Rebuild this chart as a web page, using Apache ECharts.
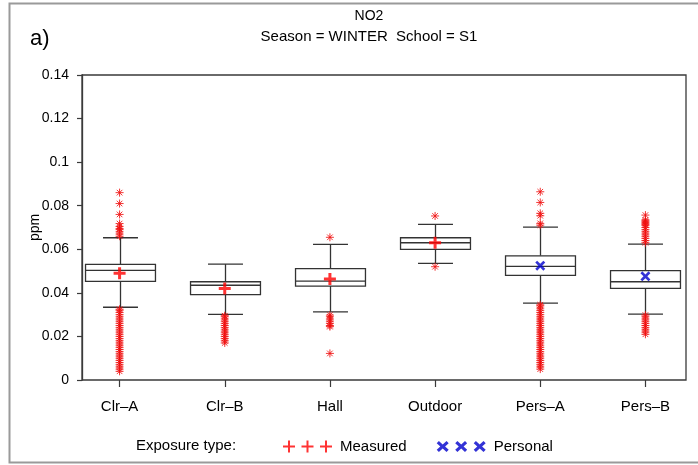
<!DOCTYPE html>
<html>
<head>
<meta charset="utf-8">
<script src="https://cdn.jsdelivr.net/npm/echarts@6/dist/echarts.min.js"></script>
<style>
html,body{margin:0;padding:0;background:#fff;}
#c{width:698px;height:465px;}
</style>
</head>
<body>
<div id="c"></div>
<script>
// ---- data ----
const categories = ['Clr\u2013A', 'Clr\u2013B', 'Hall', 'Outdoor', 'Pers\u2013A', 'Pers\u2013B'];
const whiskerLow  = [0.0334, 0.0301, 0.0313, 0.0535, 0.0353, 0.0302];
const q1          = [0.0453, 0.0392, 0.0431, 0.0600, 0.0480, 0.0421];
const median      = [0.0503, 0.0435, 0.0454, 0.0630, 0.0522, 0.0451];
const q3          = [0.0531, 0.0451, 0.0511, 0.0653, 0.0570, 0.0502];
const whiskerHigh = [0.0653, 0.0532, 0.0623, 0.0714, 0.0702, 0.0624];
const measuredMean = [0.0490, 0.0420, 0.0464, 0.0630, null, null];
const personalMean = [null, null, null, null, 0.0525, 0.0476];
const outliersClrA = [0.086, 0.081, 0.076, 0.0718, 0.0705, 0.0695, 0.069, 0.068, 0.067, 0.066,
  0.0325, 0.032, 0.031, 0.030, 0.029, 0.028, 0.027, 0.026, 0.025, 0.024, 0.023, 0.022, 0.021, 0.020,
  0.019, 0.018, 0.017, 0.016, 0.015, 0.014, 0.013, 0.012, 0.011, 0.010, 0.009, 0.008, 0.007, 0.006, 0.005, 0.004];
const outliersClrB = [0.0295, 0.029, 0.028, 0.027, 0.026, 0.025, 0.024, 0.023, 0.022, 0.021, 0.020, 0.019, 0.018, 0.017];
const outliersHall = [0.0655, 0.0298, 0.029, 0.028, 0.027, 0.026, 0.025, 0.0245, 0.0122];
const outliersOutdoor = [0.0753, 0.052];
const outliersPersA = [0.0864, 0.0815, 0.0765, 0.0754, 0.0719, 0.0711,
  0.0345, 0.034, 0.033, 0.032, 0.031, 0.030, 0.029, 0.028, 0.027, 0.026, 0.025, 0.024, 0.023, 0.022,
  0.021, 0.020, 0.019, 0.018, 0.017, 0.016, 0.015, 0.014, 0.013, 0.012, 0.011, 0.010, 0.009, 0.008, 0.007, 0.006, 0.005];
const outliersPersB = [0.0757, 0.0735, 0.073, 0.0725, 0.072, 0.0715, 0.071, 0.070, 0.069, 0.068, 0.067, 0.066, 0.065, 0.064, 0.063,
  0.0298, 0.029, 0.028, 0.027, 0.026, 0.025, 0.024, 0.023, 0.022, 0.021];
const yTicks = [0, 0.02, 0.04, 0.06, 0.08, 0.1, 0.12, 0.14];

// ---- build ----
const outlierLists = [outliersClrA, outliersClrB, outliersHall, outliersOutdoor, outliersPersA, outliersPersB];
const boxData = categories.map((c, i) => [i, whiskerLow[i], q1[i], median[i], q3[i], whiskerHigh[i]]);
const outlierData = [];
outlierLists.forEach((arr, i) => arr.forEach(v => outlierData.push([i, v])));
const measuredData = [], personalData = [];
categories.forEach((c, i) => {
  if (measuredMean[i] != null) measuredData.push([i, measuredMean[i]]);
  if (personalMean[i] != null) personalData.push([i, personalMean[i]]);
});

const FONT = 'Liberation Sans, Arial, sans-serif';
const plusPath = 'path://M4.5,0h3v4.5h4.5v3h-4.5v4.5h-3v-4.5h-4.5v-3h4.5z';
const xPath = 'path://M0,1.9L1.9,0L5,3.1L8.1,0L10,1.9L6.9,5L10,8.1L8.1,10L5,6.9L1.9,10L0,8.1L3.1,5Z';
const starPath = 'path://M5,0L5,10M0,5L10,5M1.5,1.5L8.5,8.5M1.5,8.5L8.5,1.5';
function plusAt(dx){ return `M${5+dx},0h2v5h5v2h-5v5h-2v-5h-5v-2h5z`; }
function xAt(dx){ return `M${dx},2.2L${dx+2.2},0L${dx+6},3.4L${dx+9.8},0L${dx+12},2.2L${dx+8.4},5.5L${dx+12},8.8L${dx+9.8},11L${dx+6},7.6L${dx+2.2},11L${dx},8.8L${dx+3.6},5.5Z`; }
const legendPlus = 'path://' + plusAt(0) + plusAt(18.5) + plusAt(37);
const legendX = 'path://' + xAt(0) + xAt(18.5) + xAt(37);

const chart = echarts.init(document.getElementById('c'), null, {renderer: 'canvas'});
chart.setOption({
  backgroundColor: '#fff',
  animation: false,
  textStyle: {fontFamily: FONT},
  title: [
    {text: 'NO2', left: 364, top: 4, textAlign: 'center',
     textStyle: {fontSize: 14, fontWeight: 'normal', color: '#000', fontFamily: FONT}},
    {text: 'Season = WINTER  School = S1', left: 364, top: 24, textAlign: 'center',
     textStyle: {fontSize: 15, fontWeight: 'normal', color: '#000', fontFamily: FONT}},
    {text: 'a)', left: 25, top: 23,
     textStyle: {fontSize: 22, fontWeight: 'normal', color: '#000', fontFamily: FONT}},
    {text: 'Exposure type:', left: 131, top: 433,
     textStyle: {fontSize: 15, fontWeight: 'normal', color: '#000', fontFamily: FONT}}
  ],
  graphic: [
    {type: 'rect', left: 7, top: 1, shape: {width: 690, height: 459},
     style: {fill: null, stroke: '#9a9a9a', lineWidth: 2}, silent: true, z: -1}
  ],
  legend: {
    left: 278, top: 434, itemWidth: 49, itemHeight: 12, itemGap: 30,
    selectedMode: false,
    textStyle: {fontSize: 15, color: '#000', fontFamily: FONT, padding: [0, 0, 0, 3]},
    data: [
      {name: 'Measured', icon: legendPlus},
      {name: 'Personal', icon: legendX}
    ]
  },
  grid: [
    {left: 67, width: 634, top: 75, height: 305, show: false},
    {left: 82, right: 12, top: 75, height: 305, show: true, borderColor: '#3a3a3a', borderWidth: 1.3, backgroundColor: 'transparent'}
  ],
  xAxis: [
    {type: 'category', gridIndex: 0, data: categories, boundaryGap: true,
     axisLine: {show: false},
     axisTick: {show: true, alignWithLabel: true, length: 7, lineStyle: {color: '#3a3a3a', width: 1.2}},
     axisLabel: {margin: 19, fontSize: 15, color: '#000', fontFamily: FONT},
     splitLine: {show: false}},
    {type: 'value', gridIndex: 1, show: false, min: 0, max: 1}
  ],
  yAxis: [
    {type: 'value', gridIndex: 0, min: 0, max: 0.14, show: false},
    {type: 'value', gridIndex: 1, min: 0, max: 0.14, interval: 0.02,
     name: 'ppm', nameLocation: 'middle', nameRotate: 90, nameGap: 40, nameMoveOverlap: false,
     nameTextStyle: {fontSize: 14, color: '#000', fontFamily: FONT},
     axisLine: {show: true, lineStyle: {color: '#3a3a3a', width: 1.3}},
     axisTick: {show: true, length: 5, lineStyle: {color: '#3a3a3a', width: 1.2}},
     axisLabel: {margin: 13, fontSize: 14, color: '#000', fontFamily: FONT,
       formatter: v => String(+(+v).toFixed(2))},
     splitLine: {show: false}}
  ],
  series: [
    {
      type: 'custom', name: 'box', xAxisIndex: 0, yAxisIndex: 0, silent: true, z: 2,
      data: boxData,
      encode: {x: 0, y: [1, 2, 3, 4, 5]},
      renderItem: function (params, api) {
        const i = api.value(0);
        const pLo = api.coord([i, api.value(1)]);
        const pQ1 = api.coord([i, api.value(2)]);
        const pMed = api.coord([i, api.value(3)]);
        const pQ3 = api.coord([i, api.value(4)]);
        const pHi = api.coord([i, api.value(5)]);
        const x = Math.round(pMed[0]) + 0.5;
        const bw = api.size([1, 0])[0] * 0.665;
        const cw = bw / 2;
        const st = {stroke: '#333', lineWidth: 1.3, fill: null};
        return {type: 'group', children: [
          {type: 'line', shape: {x1: x, y1: pHi[1], x2: x, y2: pQ3[1]}, style: st},
          {type: 'line', shape: {x1: x, y1: pQ1[1], x2: x, y2: pLo[1]}, style: st},
          {type: 'line', shape: {x1: x - cw / 2, y1: pHi[1], x2: x + cw / 2, y2: pHi[1]}, style: st},
          {type: 'line', shape: {x1: x - cw / 2, y1: pLo[1], x2: x + cw / 2, y2: pLo[1]}, style: st},
          {type: 'rect', shape: {x: x - bw / 2, y: pQ3[1], width: bw, height: pQ1[1] - pQ3[1]},
           style: {stroke: '#333', lineWidth: 1.3, fill: '#fff'}},
          {type: 'line', shape: {x1: x - bw / 2, y1: pMed[1], x2: x + bw / 2, y2: pMed[1]}, style: st}
        ]};
      }
    },
    {
      type: 'scatter', name: 'outliers', xAxisIndex: 0, yAxisIndex: 0, silent: true, z: 3,
      data: outlierData, symbol: starPath, symbolSize: 8,
      itemStyle: {color: 'rgba(0,0,0,0)', borderColor: '#f01010', borderWidth: 1, opacity: 0.85}
    },
    {
      type: 'scatter', name: 'Measured', xAxisIndex: 0, yAxisIndex: 0, silent: true, z: 4,
      data: measuredData, symbol: plusPath, symbolSize: 12,
      itemStyle: {color: '#ff0000'}
    },
    {
      type: 'scatter', name: 'Personal', xAxisIndex: 0, yAxisIndex: 0, silent: true, z: 4,
      data: personalData, symbol: xPath, symbolSize: 10,
      itemStyle: {color: '#0000cc'}
    }
  ]
});
</script>
</body>
</html>
